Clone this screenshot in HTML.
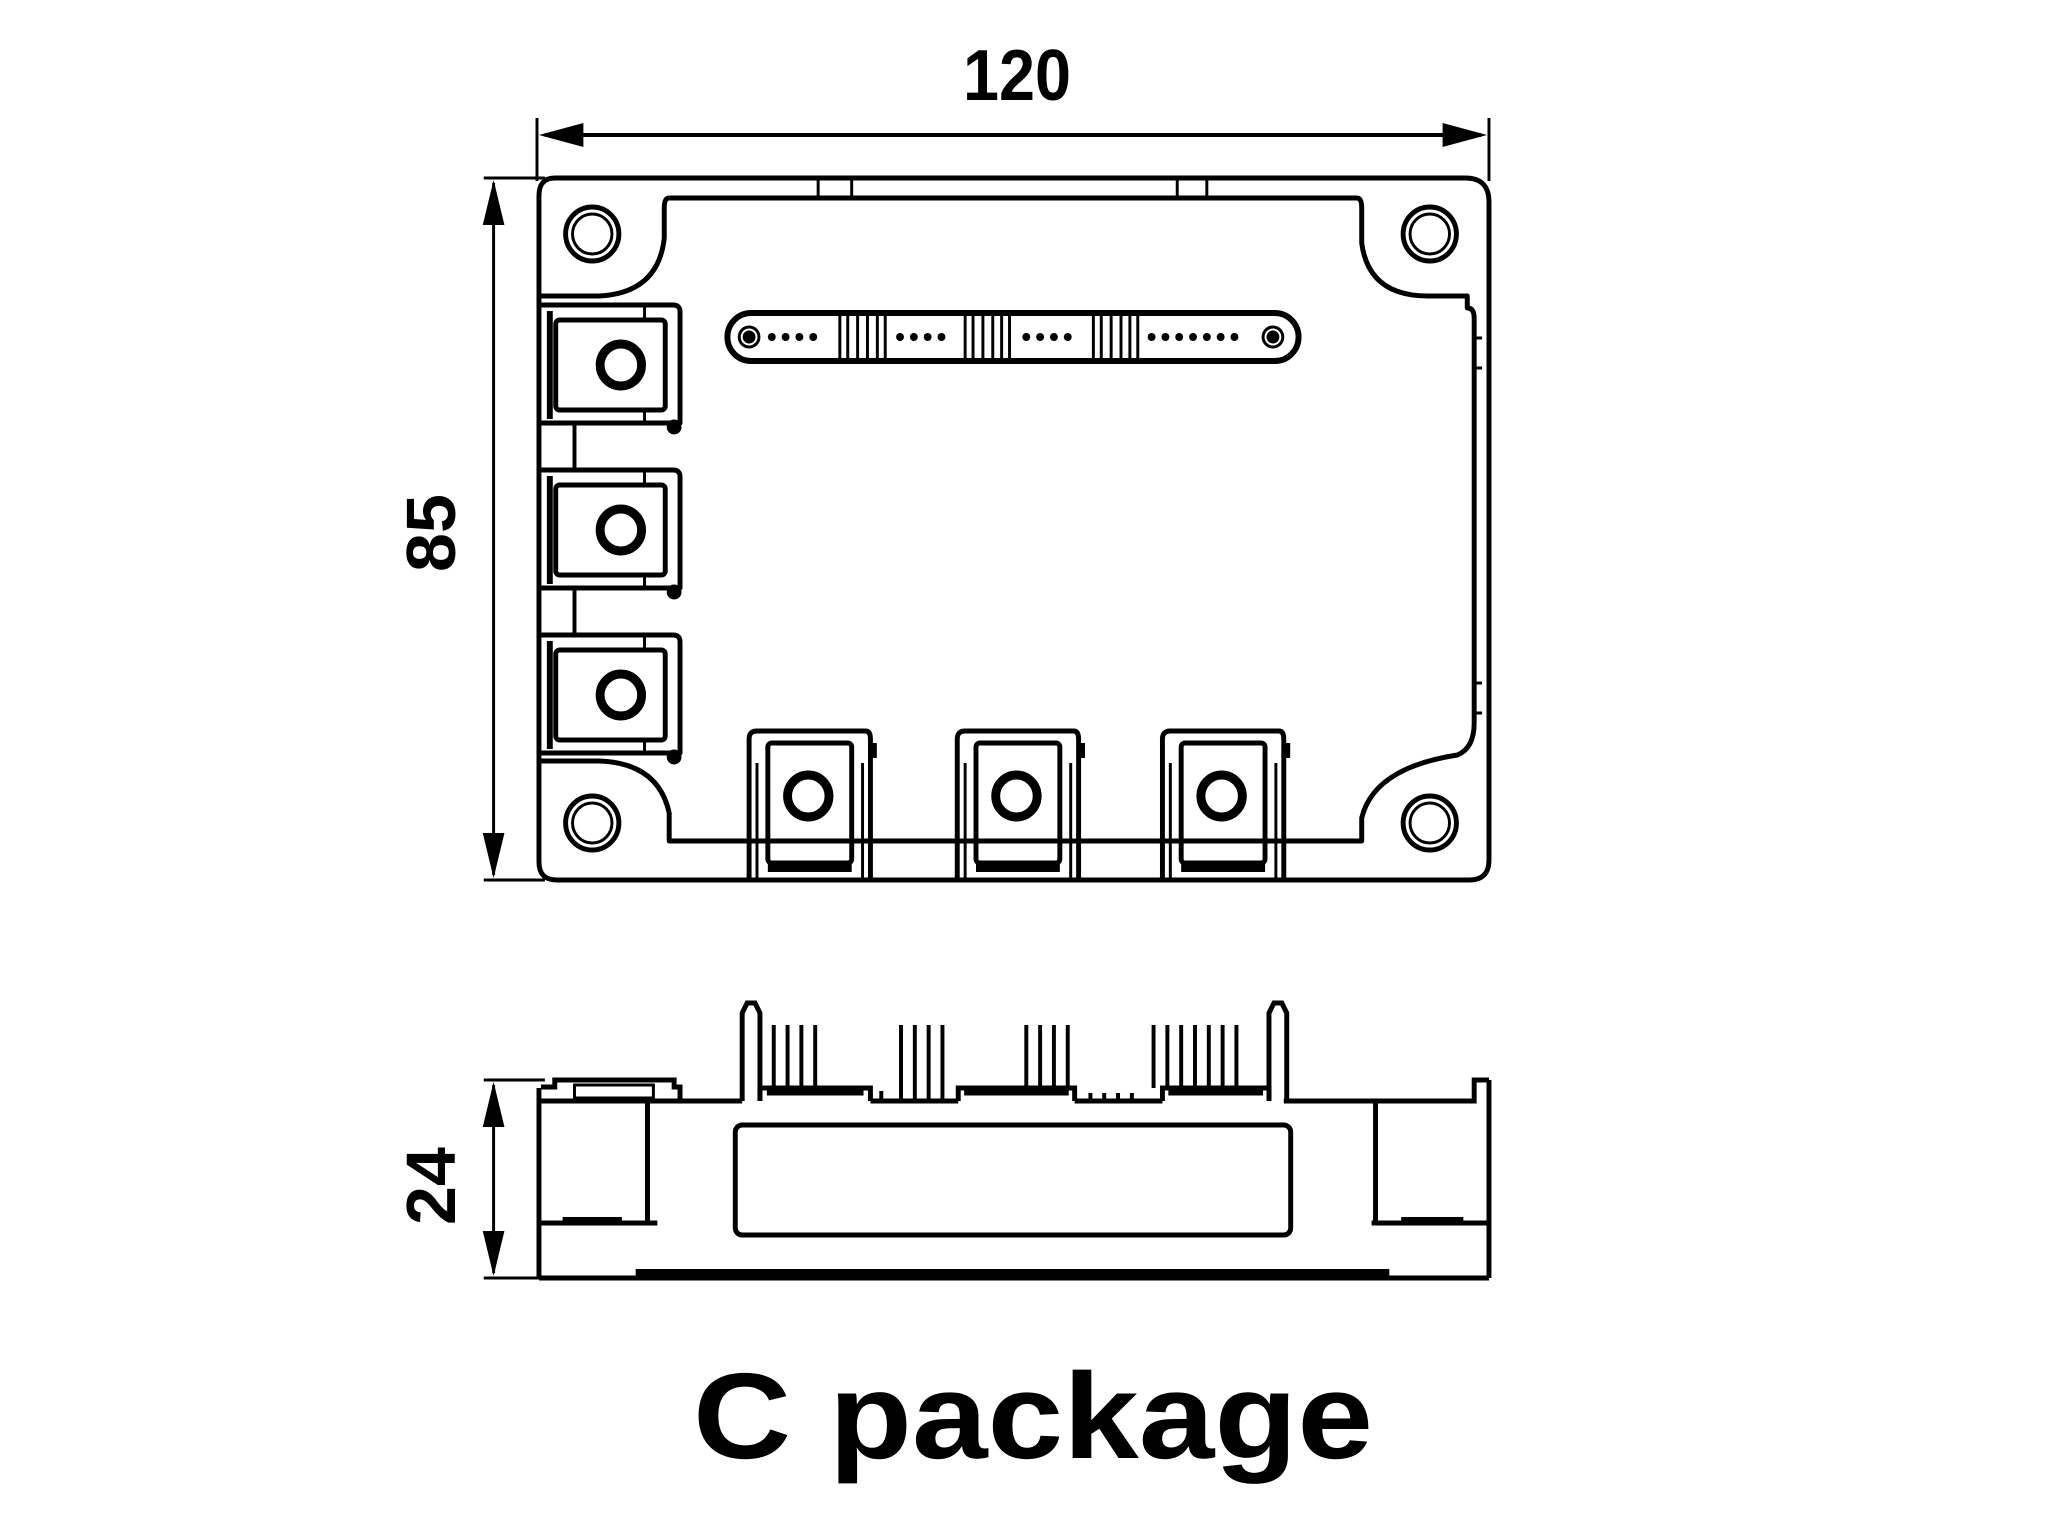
<!DOCTYPE html>
<html><head><meta charset="utf-8"><style>
html,body{margin:0;padding:0;background:#fff;}
svg{display:block;}
</style></head><body>
<svg width="2048" height="1535" viewBox="0 0 2048 1535" xmlns="http://www.w3.org/2000/svg">
<g transform="translate(537,3) scale(0.9865,1) translate(-537,0)">
<g fill="none" stroke="#000" stroke-width="5" stroke-linejoin="round">
<!-- width dimension -->
<line x1="537" y1="115" x2="537" y2="178" stroke-width="3"/>
<line x1="1502" y1="115" x2="1502" y2="178" stroke-width="3"/>
<line x1="545" y1="132" x2="1494" y2="132" stroke-width="4"/>
<polygon points="539,132 584,120 584,144" fill="#000" stroke="none"/>
<polygon points="1500,132 1455,120 1455,144" fill="#000" stroke="none"/>
<!-- height dimension top view -->
<line x1="483" y1="175" x2="545" y2="175" stroke-width="3"/>
<line x1="483" y1="877" x2="545" y2="877" stroke-width="3"/>
<line x1="493" y1="180" x2="493" y2="872" stroke-width="3"/>
<polygon points="493,177 482,222 504,222" fill="#000" stroke="none"/>
<polygon points="493,875 482,830 504,830" fill="#000" stroke="none"/>

<path d="M555,175 H1478 Q1502,175 1502,199 V857 Q1502,877 1482,877 H557 Q539,877 539,859 V193 Q539,175 555,175 Z"/>
<path d="M822,175 V195 M856,175 V195 M1186,175 V195 M1216,175 V195" stroke-width="3"/>
<path d="M671,195 H1368 Q1373,195 1373,205 V240 Q1380,293 1440,293 H1480 V305 Q1487,305 1487,315 V720 Q1487,745 1470,752 Q1385,765 1373,815 V838 H671 V810 Q660,760 600,758 H541"/>
<path d="M671,195 Q666,195 666,205 V235 Q660,290 600,293 H541"/>
<path d="M1487,335 H1495 M1487,365 H1495 M1487,680 H1495 M1487,710 H1495" stroke-width="3"/>
<circle cx="593" cy="231" r="27"/><circle cx="593" cy="231" r="20" stroke-width="3"/>
<circle cx="1442" cy="231" r="27"/><circle cx="1442" cy="231" r="20" stroke-width="3"/>
<circle cx="593" cy="820" r="27"/><circle cx="593" cy="820" r="20" stroke-width="3"/>
<circle cx="1442" cy="820" r="27"/><circle cx="1442" cy="820" r="20" stroke-width="3"/>

<g id="lt">
<path d="M541,302 H675 Q682,302 682,309 V420 H541"/>
<rect x="556" y="317" width="111" height="90" rx="4"/>
<line x1="550" y1="308" x2="550" y2="416" stroke-width="6"/>
<line x1="646" y1="302" x2="646" y2="317" stroke-width="3"/>
<line x1="646" y1="407" x2="646" y2="420" stroke-width="3"/>
<circle cx="622" cy="362" r="21" stroke-width="9"/>
<circle cx="676" cy="424" r="5" fill="#000"/>
</g>
<use href="#lt" y="165"/>
<use href="#lt" y="330"/>
<line x1="575" y1="420" x2="575" y2="467" stroke-width="4"/>
<line x1="575" y1="585" x2="575" y2="632" stroke-width="4"/>

<g id="bt">
<path d="M752,877 V736 Q752,728 760,728 H870 Q875,728 875,736 V877"/>
<rect x="771" y="740" width="85" height="120" rx="4"/>
<line x1="760" y1="760" x2="760" y2="877" stroke-width="3"/>
<line x1="867" y1="760" x2="867" y2="877" stroke-width="3"/>
<line x1="771" y1="865" x2="856" y2="865" stroke-width="8"/>
<circle cx="812" cy="793" r="21" stroke-width="9"/>
<line x1="879" y1="740" x2="879" y2="755" stroke-width="5"/>
</g>
<use href="#bt" x="211"/>
<use href="#bt" x="419"/>

<rect x="730" y="310" width="579" height="48" rx="24" stroke-width="6"/>
<circle cx="752" cy="334" r="10" stroke-width="3"/><circle cx="752" cy="334" r="4" fill="#000"/>
<circle cx="1283" cy="334" r="10" stroke-width="3"/><circle cx="1283" cy="334" r="4" fill="#000"/>
<g stroke-width="3">
<path d="M844,310 V358 M852,310 V358 M862,310 V358 M872,310 V358 M882,310 V358 M890,310 V358"/>
<path d="M971,310 V358 M979,310 V358 M989,310 V358 M999,310 V358 M1008,310 V358 M1016,310 V358"/>
<path d="M1101,310 V358 M1109,310 V358 M1119,310 V358 M1129,310 V358 M1138,310 V358 M1146,310 V358"/>
</g>
</g>
<g fill="#000">
<circle cx="775" cy="334" r="4"/><circle cx="789" cy="334" r="4"/><circle cx="803" cy="334" r="4"/><circle cx="817" cy="334" r="4"/>
<circle cx="905" cy="334" r="4"/><circle cx="919" cy="334" r="4"/><circle cx="933" cy="334" r="4"/><circle cx="947" cy="334" r="4"/>
<circle cx="1033" cy="334" r="4"/><circle cx="1047" cy="334" r="4"/><circle cx="1061" cy="334" r="4"/><circle cx="1075" cy="334" r="4"/>
<circle cx="1160" cy="334" r="4"/><circle cx="1174" cy="334" r="4"/><circle cx="1188" cy="334" r="4"/><circle cx="1202" cy="334" r="4"/><circle cx="1216" cy="334" r="4"/><circle cx="1230" cy="334" r="4"/><circle cx="1244" cy="334" r="4"/>
</g>

<g fill="none" stroke="#000" stroke-width="5">
<line x1="483" y1="1077" x2="545" y2="1077" stroke-width="3"/>
<line x1="483" y1="1275" x2="545" y2="1275" stroke-width="3"/>
<line x1="493" y1="1082" x2="493" y2="1270" stroke-width="3"/>
<polygon points="493,1079 482,1124 504,1124" fill="#000" stroke="none"/>
<polygon points="493,1273 482,1228 504,1228" fill="#000" stroke="none"/>
<line x1="539" y1="1085" x2="539" y2="1275"/>
<line x1="1502" y1="1077" x2="1502" y2="1275"/>
<path d="M539,1275 H1502"/>
<rect x="637" y="1266" width="764" height="9" fill="#000" stroke="none"/>
<path d="M539,1098 H682 V1084 H676 V1077 H555 V1084 H541"/>
<rect x="575" y="1082" width="80" height="13" stroke-width="3"/>
<path d="M682,1098 H745 M875,1098 H964 M1082,1098 H1171 M1294,1098 H1487 V1077 H1502"/>
<rect x="738" y="1122" width="563" height="110" rx="7"/>
<path d="M649,1098 V1220 M539,1220 H659"/>
<rect x="563" y="1214" width="60" height="7" fill="#000" stroke="none"/>
<path d="M1387,1098 V1220 M1383,1220 H1502"/>
<rect x="1413" y="1214" width="63" height="7" fill="#000" stroke="none"/>
<path d="M745,1098 V1010 L750,1000 H758 L763,1010 V1098"/>
<path d="M1279,1098 V1010 L1284,1000 H1292 L1297,1010 V1098"/>
<path d="M763,1098 V1085 H875 V1098 M770,1090 H868"/>
<path d="M964,1098 V1085 H1082 V1098 M970,1090 H1076"/>
<path d="M1171,1098 V1085 H1279 V1098 M1177,1090 H1273"/>
</g>
<g stroke="#000" stroke-width="4">
<path d="M777,1085 V1022 M791,1085 V1022 M805,1085 V1022 M819,1085 V1022"/>
<path d="M906,1098 V1022 M920,1098 V1022 M934,1098 V1022 M948,1098 V1022"/>
<path d="M1033,1085 V1022 M1047,1085 V1022 M1061,1085 V1022 M1075,1085 V1022"/>
<path d="M1162,1085 V1022 M1176,1085 V1022 M1190,1085 V1022 M1204,1085 V1022 M1218,1085 V1022 M1232,1085 V1022 M1246,1085 V1022"/>
<path d="M886,1098 V1088 M1098,1098 V1090 M1112,1098 V1090 M1126,1098 V1090 M1140,1098 V1090"/>
</g>
</g>

<g font-family="'Liberation Sans', Arial, sans-serif" font-weight="bold" fill="#000">
<text x="1017" y="100" font-size="72" text-anchor="middle" textLength="108" lengthAdjust="spacingAndGlyphs">120</text>
<text transform="translate(455,533) rotate(-90)" font-size="70" text-anchor="middle">85</text>
<text transform="translate(455,1186) rotate(-90)" font-size="70" text-anchor="middle">24</text>
</g>
<text x="1033" y="1458" font-family="'Liberation Sans','Noto Sans CJK JP',sans-serif" font-weight="bold" font-size="122" text-anchor="middle" textLength="680" lengthAdjust="spacingAndGlyphs" fill="#000">C package</text>
</svg>
</body></html>
